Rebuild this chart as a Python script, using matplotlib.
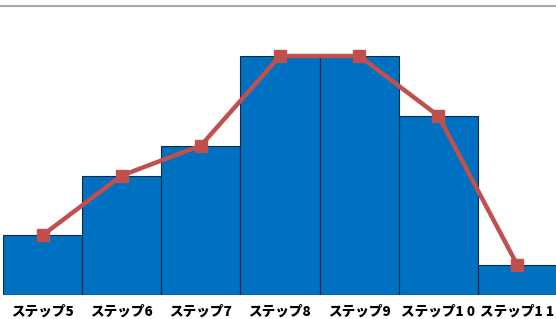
import matplotlib.pyplot as plt
from matplotlib.lines import Line2D
import numpy as np

plt.rcParams['font.family'] = ['Noto Sans CJK JP', 'DejaVu Sans']

steps = ["ステップ5", "ステップ6", "ステップ7", "ステップ8", "ステップ9", "ステップ1 0", "ステップ1 1"]
bar_values = [2, 4, 5, 8, 8, 6, 1]
line_values = [2, 4, 5, 8, 8, 6, 1]

W, H = 556, 319
fig = plt.figure(figsize=(W / 100, H / 100), dpi=100)
ax = fig.add_axes([3 / W, (H - 295) / H, 554 / W, (295 - 56) / H])

x = np.arange(len(steps))
ax.bar(x, bar_values, width=1.0, color="#0070C0", edgecolor="#0B2A4A", linewidth=0.8)
ax.plot(x, line_values, color="#C0504D", linewidth=3.2, marker="s", markersize=8,
        clip_on=False, zorder=3)

ax.set_xlim(-0.5, 6.5)
ax.set_ylim(0, 8)
ax.set_yticks([])
ax.set_xticks(x)
ax.set_xticklabels(steps, fontsize=9.8, fontweight="heavy")
ax.tick_params(axis="x", length=0, pad=7)
for s in ax.spines.values():
    s.set_visible(False)

# thin gray rule across the top
fig.add_artist(Line2D([0, 1], [1 - 5.5 / H, 1 - 5.5 / H], color="#A8A8A8", linewidth=1.5))

fig.savefig("out.png", dpi=100)
